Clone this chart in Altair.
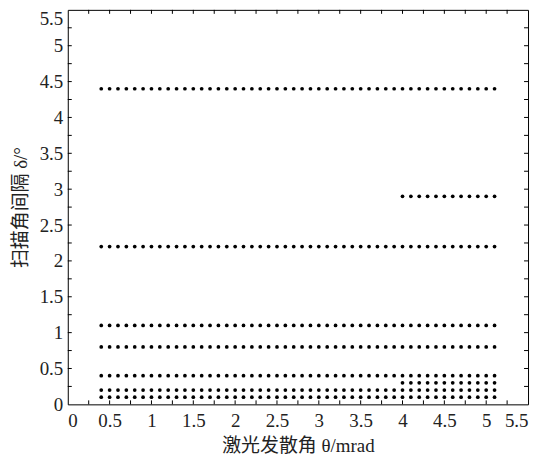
import altair as alt
import pandas as pd

# x positions of dots (mrad)
x_full = [0.4, 0.5, 0.6, 0.7, 0.8, 0.9, 1.0, 1.1, 1.2, 1.3, 1.4, 1.5, 1.6, 1.7, 1.8, 1.9,
          2.0, 2.1, 2.2, 2.3, 2.4, 2.5, 2.6, 2.7, 2.8, 2.9, 3.0, 3.1, 3.2, 3.3, 3.4, 3.5,
          3.6, 3.7, 3.8, 3.9, 4.0, 4.1, 4.2, 4.3, 4.4, 4.5, 4.6, 4.7, 4.8, 4.9, 5.0, 5.1]
x_tail = [4.0, 4.1, 4.2, 4.3, 4.4, 4.5, 4.6, 4.7, 4.8, 4.9, 5.0, 5.1]
# scan angle intervals (deg)
y_full_rows = [0.1, 0.2, 0.4, 0.8, 1.1, 2.2, 4.4]
y_tail_rows = [0.3, 2.9]

# axis tick labels and minor ticks
x_labels = [0, 0.5, 1, 1.5, 2, 2.5, 3, 3.5, 4, 4.5, 5, 5.5]
y_labels = [0, 0.5, 1, 1.5, 2, 2.5, 3, 3.5, 4, 4.5, 5, 5.5]
x_ticks = [0.25, 0.5, 0.75, 1, 1.25, 1.5, 1.75, 2, 2.25, 2.5, 2.75, 3, 3.25, 3.5,
           3.75, 4, 4.25, 4.5, 4.75, 5, 5.25]
y_ticks = [0.25, 0.5, 0.75, 1, 1.25, 1.5, 1.75, 2, 2.25, 2.5, 2.75, 3, 3.25, 3.5,
           3.75, 4, 4.25, 4.5, 4.75, 5, 5.25]

rows = []
for y in y_full_rows:
    for x in x_full:
        rows.append({"theta": x, "delta": y})
for y in y_tail_rows:
    for x in x_tail:
        rows.append({"theta": x, "delta": y})
df = pd.DataFrame(rows)

W, H = 462, 396
FONT = "Liberation Serif, Noto Sans CJK SC"
TL = 4

xscale = alt.Scale(domain=[0, 5.5], nice=False, zero=False)
yscale = alt.Scale(domain=[0, 5.5], nice=False, zero=False)

common = dict(ticks=False, domain=False, grid=False, labelOverlap=False,
              labelFont=FONT, titleFont=FONT, labelFontSize=19, titleFontSize=19,
              labelColor="#222", titleColor="#222", titleFontWeight="normal",
              format="~g")
xaxis = alt.Axis(values=x_labels, labelPadding=7,
                 title="激光发散角 θ/mrad", titlePadding=6, **common)
yaxis = alt.Axis(values=y_labels, labelPadding=5,
                 labelBaseline={"condition": {"test": "datum.value >= 5.5", "value": "top"},
                                "value": "middle"},
                 title="扫描角间隔 δ/°", titlePadding=9, **common)

points = alt.Chart(df).mark_circle(size=14, color="black", opacity=1).encode(
    x=alt.X("theta:Q", scale=xscale, axis=xaxis, title="激光发散角 θ/mrad"),
    y=alt.Y("delta:Q", scale=yscale, axis=yaxis, title="扫描角间隔 δ/°"),
)

xt = pd.DataFrame({"v": x_ticks})
yt = pd.DataFrame({"v": y_ticks})

xtick_bottom = alt.Chart(xt).mark_rule(color="black", strokeWidth=1).encode(
    x=alt.X("v:Q", scale=xscale, axis=xaxis, title="激光发散角 θ/mrad"),
    y=alt.value(H), y2=alt.value(H - TL))
xtick_top = alt.Chart(xt).mark_rule(color="black", strokeWidth=1).encode(
    x=alt.X("v:Q", scale=xscale, axis=xaxis, title="激光发散角 θ/mrad"),
    y=alt.value(0), y2=alt.value(TL))
ytick_left = alt.Chart(yt).mark_rule(color="black", strokeWidth=1).encode(
    y=alt.Y("v:Q", scale=yscale, axis=yaxis, title="扫描角间隔 δ/°"),
    x=alt.value(0), x2=alt.value(TL))
ytick_right = alt.Chart(yt).mark_rule(color="black", strokeWidth=1).encode(
    y=alt.Y("v:Q", scale=yscale, axis=yaxis, title="扫描角间隔 δ/°"),
    x=alt.value(W), x2=alt.value(W - TL))

chart = alt.layer(points, xtick_bottom, xtick_top, ytick_left, ytick_right).properties(
    width=W, height=H,
    background="white",
    autosize=alt.AutoSizeParams(type="none"),
    padding={"left": 60, "top": 1, "right": 8, "bottom": 57},
).configure_view(
    stroke="black", strokeWidth=1
)

chart.save("out.html", embed_options={"renderer": "svg", "actions": False})
